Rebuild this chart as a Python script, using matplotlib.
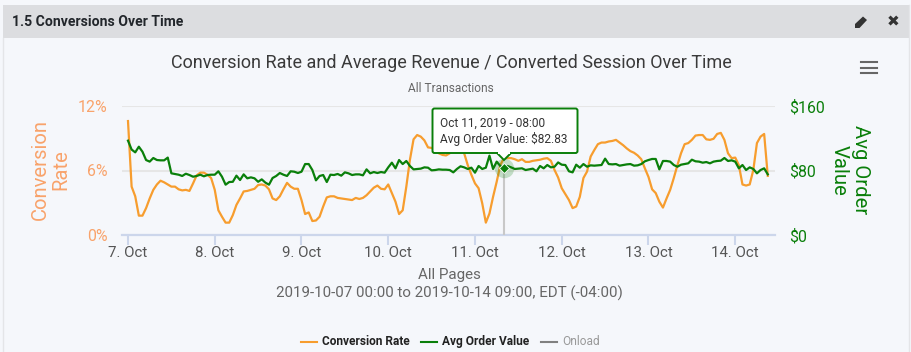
import matplotlib
matplotlib.use('Agg')
import matplotlib.pyplot as plt
from matplotlib.patches import Rectangle, FancyBboxPatch, Polygon

plt.rcParams['font.family'] = ['Roboto', 'DejaVu Sans']

# hourly values, 7 Oct 00:00 to 14 Oct 09:00
conversion_rate = [
    10.6, 4.5, 3.6, 1.8, 1.8, 2.5, 3.4, 4.2, 4.7, 5.05, 4.9, 4.7, 4.5, 4.5, 4.25, 4.15, 4.2, 4.1, 4.8, 5.55, 5.8, 5.8, 5.6, 5.3,
    4.2, 2.3, 1.7, 1.15, 1.15, 1.85, 2.8, 3.4, 4.05, 4.1, 4.2, 4.3, 4.65, 4.7, 4.6, 4.25, 3.4, 3.25, 3.6, 4.25, 4.85, 4.5, 4.3, 4.3,
    3.25, 1.95, 2.1, 1.3, 1.35, 1.7, 2.65, 3.5, 3.6, 3.6, 3.45, 3.4, 3.35, 3.3, 3.25, 3.45, 3.35, 3.45, 3.7, 4.05, 4.4, 4.6, 4.3, 4.25,
    4.7, 3.9, 3.1, 1.95, 2.3, 4.5, 7.0, 8.9, 9.3, 9.15, 8.8, 8.15, 8.1, 7.9, 7.6, 7.45, 7.4, 7.6, 8.0, 8.1, 8.0, 7.6, 6.5, 5.6,
    4.8, 4.35, 2.95, 1.15, 2.0, 3.55, 4.95, 6.5, 7.15, 7.15, 7.15, 7.05, 6.9, 7.05, 6.8, 6.8, 6.9, 6.95, 7.0, 7.1, 7.15, 6.9, 6.05, 5.35,
    4.35, 3.8, 3.25, 2.5, 2.65, 3.55, 5.3, 5.9, 7.3, 7.9, 8.45, 8.6, 8.6, 8.7, 8.75, 8.85, 8.6, 8.35, 8.05, 7.8, 7.65, 7.4, 7.05, 6.2,
    5.4, 4.25, 3.9, 3.1, 2.55, 3.4, 4.2, 5.3, 6.5, 7.6, 8.45, 8.55, 8.85, 9.25, 9.3, 9.3, 8.9, 8.85, 8.95, 9.4, 9.5, 8.85, 7.6, 7.15,
    7.2, 6.5, 4.7, 4.6, 4.7, 6.05, 8.55, 9.15, 9.4, 5.5,
]
avg_order_value = [
    117, 106, 102.5, 109.5, 103.3, 93, 91, 95.5, 93, 92.6, 92.6, 96, 76.5, 75.7, 74.8, 73.2, 76, 74.4, 72.3, 73.2, 74.8, 72.8, 74.4, 74.8,
    74.8, 79, 72.3, 62.4, 65.7, 66, 73.6, 68.2, 75.2, 70.3, 71.5, 70.3, 66, 69, 65, 62.4, 70.7, 73.2, 76.9, 74.8, 73.2, 79, 78.5, 76.9,
    78.5, 88, 88, 80.6, 67.8, 73.2, 74.4, 65.7, 74.8, 74.4, 75.7, 73.6, 77.7, 76.5, 74.4, 75.2, 75.2, 74, 81.4, 76.5, 78.1, 76.9, 78.1, 77.3,
    83.9, 89.7, 82.7, 93, 88, 91.8, 85.6, 81.4, 81.9, 82.3, 83.9, 83.5, 80.2, 80.6, 81.4, 81, 81, 80.6, 77.7, 81.9, 85.2, 83.9, 81.9, 83.5,
    77.3, 85.6, 81.9, 83.5, 98.4, 81.9, 91, 85.6, 82.83, 85.6, 83.9, 81.9, 82.3, 82.7, 80.6, 81.4, 82.3, 79, 85.6, 82.7, 86.8, 83.9, 84.7, 90,
    87.2, 86.8, 79, 77.7, 87.2, 83.5, 88, 84.7, 86.4, 86, 86.4, 86.8, 94.7, 88, 87.6, 88, 86, 86.8, 87.6, 88, 86, 86.4, 88, 91.4,
    93, 94.3, 94.3, 81.4, 91.8, 91.8, 91, 86.8, 84.7, 87.2, 88, 88.9, 93.4, 91.4, 91, 89.7, 90.5, 88.9, 91, 91.8, 92.2, 95.5, 91.8, 92.6,
    91, 82.7, 86.8, 80.6, 83.9, 81.9, 76.5, 80.6, 82.7, 75.2,
]
hours = list(range(len(conversion_rate)))
day_ticks = [0, 24, 48, 72, 96, 120, 144, 168]
day_labels = ['7. Oct', '8. Oct', '9. Oct', '10. Oct', '11. Oct', '12. Oct', '13. Oct', '14. Oct']
rate_ticks = [0, 6, 12]
rate_labels = ['0%', '6%', '12%']
value_ticks = [0, 80, 160]
value_labels = ['$0', '$80', '$160']
hover_hour = 104

W, H = 912, 352
bg = '#f5f7fb'
orange = '#f79d2e'
orange_txt = '#f9a36b'
green = '#0a7f0a'

fig = plt.figure(figsize=(W / 100, H / 100), dpi=100, facecolor=bg)

# header and panel edges, in pixel coords
back = fig.add_axes([0, 0, 1, 1], zorder=0)
back.set_xlim(0, W)
back.set_ylim(H, 0)
back.axis('off')
back.add_patch(Rectangle((3, 5), 906, 33, fc='#dcdde0', ec='none'))
back.plot([3.5, 3.5], [38, H], color='#e4e5e8', lw=1)
back.plot([909, 909], [5, H], color='#e4e5e8', lw=1)
back.text(12, 21.5, '1.5 Conversions Over Time', fontsize=10.1, fontweight='bold', color='#22262b', va='center')
# pencil icon
back.add_patch(Polygon([[855, 28], [855, 24], [863, 16.5], [867, 20], [859.5, 28]], fc='#333333', ec='none'))
back.text(893, 22, '\u2716', fontsize=11, color='#333333', ha='center', va='center', family='DejaVu Sans')
for yy in [62, 67.5, 73]:
    back.plot([861, 877], [yy, yy], color='#666666', lw=1.5)
back.text(451, 63, 'Conversion Rate and Average Revenue / Converted Session Over Time', fontsize=12.95, color='#3a3a3a', ha='center', va='center')
back.text(451, 88, 'All Transactions', fontsize=8.6, color='#666666', ha='center', va='center')
back.text(449, 275.5, 'All Pages', fontsize=10.9, color='#666666', ha='center', va='center')
back.text(449, 293.5, '2019-10-07 00:00 to 2019-10-14 09:00, EDT (-04:00)', fontsize=10.9, color='#666666', ha='center', va='center')
back.text(51, 170, 'Conversion\nRate', fontsize=14.6, color=orange_txt, rotation=90, ha='center', va='center', linespacing=1.1, multialignment='center')
back.text(850, 170, 'Avg Order\nValue', fontsize=14.6, color=green, rotation=270, ha='center', va='center', linespacing=1.15, multialignment='center')

# legend
back.plot([301, 317], [341.5, 341.5], color=orange, lw=1.5)
back.text(322, 341.5, 'Conversion Rate', fontsize=8.6, fontweight='bold', color='#222222', va='center')
back.plot([421, 437], [341.5, 341.5], color=green, lw=1.5)
back.text(442, 341.5, 'Avg Order Value', fontsize=8.6, fontweight='bold', color='#222222', va='center')
back.plot([541, 557], [341.5, 341.5], color='#808080', lw=1.5)
back.text(562, 341.5, 'Onload', fontsize=8.6, color='#999999', va='center')

# plot area: left 122 right 775 top 106 bottom 235
ax = fig.add_axes([122 / W, 1 - 235 / H, (775 - 122) / W, (235 - 106) / H], zorder=1)
ax.patch.set_alpha(0)
ax.set_xlim(-1.66, 179)
ax.set_ylim(0, 12)
ax.set_xticks(day_ticks)
ax.set_xticklabels(day_labels, fontsize=10.8, color='#555555')
ax.tick_params(axis='x', length=7, width=1.5, color='#ccd6eb', pad=0.8)
ax.set_yticks(rate_ticks)
ax.set_yticklabels(rate_labels, fontsize=11.4, color=orange_txt)
ax.tick_params(axis='y', length=0, pad=10.5)
ax.grid(axis='y', color='#e6e6e6', lw=1.5)
ax.set_axisbelow(True)
for s in ['top', 'left', 'right']:
    ax.spines[s].set_visible(False)
ax.spines['bottom'].set_color('#ccd6eb')
ax.spines['bottom'].set_linewidth(1.6)
ax.plot(hours, conversion_rate, color=orange, lw=1.6, clip_on=False, zorder=3)

ax2 = ax.twinx()
ax2.patch.set_alpha(0)
ax2.set_ylim(0, 160)
ax2.set_yticks(value_ticks)
ax2.set_yticklabels(value_labels, fontsize=11.4, color=green)
ax2.tick_params(axis='y', length=0, pad=10.5)
for s in ['top', 'left', 'right', 'bottom']:
    ax2.spines[s].set_visible(False)
hx, hy = hours[hover_hour], avg_order_value[hover_hour]
ax2.plot([hx, hx], [0, hy], color='#c8c8c8', lw=1.5, zorder=2)
ax2.plot(hours, avg_order_value, color=green, lw=1.6, clip_on=False, zorder=4)
ax2.plot([hx], [hy], marker='o', ms=14, color=green, alpha=0.22, mec='none', zorder=5)
ax2.plot([hx], [hy], marker='D', ms=5, color=green, mec='white', mew=0.6, zorder=6)

# tooltip on top of the lines
top = fig.add_axes([0, 0, 1, 1], zorder=3)
top.set_xlim(0, W)
top.set_ylim(H, 0)
top.axis('off')
top.add_patch(FancyBboxPatch((432.5, 108.5), 145, 44.5, boxstyle='round,pad=0,rounding_size=2', fc='white', ec=green, lw=1.4))
top.add_patch(Polygon([[497, 153], [504, 160], [511, 153]], closed=False, fc='white', ec=green, lw=1.4))
top.add_patch(Rectangle((498, 151.5), 12, 2.2, fc='white', ec='none'))
top.text(440, 123.5, 'Oct 11, 2019 - 08:00', fontsize=8.55, color='#333333', va='center')
top.text(440, 138.5, 'Avg Order Value: $82.83', fontsize=8.55, color='#333333', va='center')

fig.savefig('out.png', dpi=100, facecolor=bg)
